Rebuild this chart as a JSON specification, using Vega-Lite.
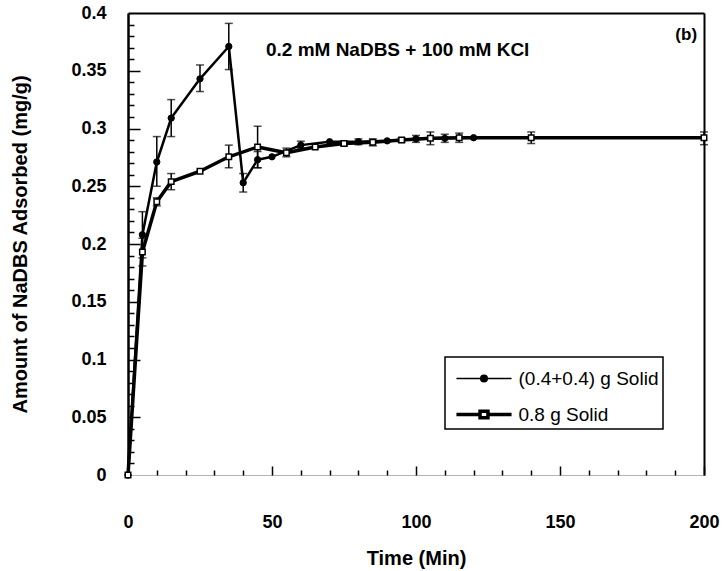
{
  "$schema": "https://vega.github.io/schema/vega-lite/v6.json",
  "autosize": "none",
  "width": 576,
  "height": 462,
  "padding": {"left": 128, "top": 13, "right": 21, "bottom": 96},
  "background": "white",
  "config": {
    "view": {"stroke": null},
    "font": "Liberation Sans",
    "axis": {"grid": false, "labelColor": "black", "titleColor": "black"},
    "legend": {
      "orient": "none",
      "legendX": 317,
      "legendY": 344,
      "strokeColor": "black",
      "strokeWidth": 1.5,
      "fillColor": "white",
      "padding": 4,
      "rowPadding": 7,
      "symbolSize": 1089,
      "symbolOffset": 16.5,
      "labelOffset": 16,
      "labelFont": "Liberation Sans",
      "labelFontSize": 19,
      "labelColor": "black",
      "labelLimit": 400
    }
  },
  "resolve": {"axis": {"x": "independent", "y": "independent"}},
  "data": {
    "values": [
      {"s": "(0.4+0.4) g Solid", "t": 0, "v": 0, "lo": null, "hi": null},
      {"s": "(0.4+0.4) g Solid", "t": 5, "v": 0.208, "lo": 0.188, "hi": 0.228},
      {"s": "(0.4+0.4) g Solid", "t": 10, "v": 0.271, "lo": 0.25, "hi": 0.293},
      {"s": "(0.4+0.4) g Solid", "t": 15, "v": 0.309, "lo": 0.293, "hi": 0.325},
      {"s": "(0.4+0.4) g Solid", "t": 25, "v": 0.343, "lo": 0.332, "hi": 0.355},
      {"s": "(0.4+0.4) g Solid", "t": 35, "v": 0.371, "lo": 0.351, "hi": 0.391},
      {"s": "(0.4+0.4) g Solid", "t": 40, "v": 0.253, "lo": 0.245, "hi": 0.261},
      {"s": "(0.4+0.4) g Solid", "t": 45, "v": 0.273, "lo": 0.266, "hi": 0.28},
      {"s": "(0.4+0.4) g Solid", "t": 50, "v": 0.2755, "lo": null, "hi": null},
      {"s": "(0.4+0.4) g Solid", "t": 60, "v": 0.2856, "lo": 0.283, "hi": 0.289},
      {"s": "(0.4+0.4) g Solid", "t": 70, "v": 0.2885, "lo": null, "hi": null},
      {"s": "(0.4+0.4) g Solid", "t": 80, "v": 0.2885, "lo": 0.286, "hi": 0.291},
      {"s": "(0.4+0.4) g Solid", "t": 90, "v": 0.2893, "lo": null, "hi": null},
      {"s": "(0.4+0.4) g Solid", "t": 100, "v": 0.291, "lo": 0.288, "hi": 0.294},
      {"s": "(0.4+0.4) g Solid", "t": 110, "v": 0.2915, "lo": 0.288, "hi": 0.295},
      {"s": "(0.4+0.4) g Solid", "t": 120, "v": 0.292, "lo": null, "hi": null},
      {"s": "0.8 g Solid", "t": 0, "v": 0, "lo": null, "hi": null},
      {"s": "0.8 g Solid", "t": 5, "v": 0.193, "lo": 0.181, "hi": 0.205},
      {"s": "0.8 g Solid", "t": 10, "v": 0.2365, "lo": 0.233, "hi": 0.24},
      {"s": "0.8 g Solid", "t": 15, "v": 0.254, "lo": 0.247, "hi": 0.261},
      {"s": "0.8 g Solid", "t": 25, "v": 0.263, "lo": null, "hi": null},
      {"s": "0.8 g Solid", "t": 35, "v": 0.2755, "lo": 0.266, "hi": 0.2856},
      {"s": "0.8 g Solid", "t": 45, "v": 0.284, "lo": 0.266, "hi": 0.302},
      {"s": "0.8 g Solid", "t": 55, "v": 0.279, "lo": 0.2755, "hi": 0.283},
      {"s": "0.8 g Solid", "t": 65, "v": 0.284, "lo": null, "hi": null},
      {"s": "0.8 g Solid", "t": 75, "v": 0.287, "lo": 0.285, "hi": 0.289},
      {"s": "0.8 g Solid", "t": 85, "v": 0.288, "lo": 0.285, "hi": 0.291},
      {"s": "0.8 g Solid", "t": 95, "v": 0.29, "lo": 0.288, "hi": 0.292},
      {"s": "0.8 g Solid", "t": 105, "v": 0.2915, "lo": 0.286, "hi": 0.297},
      {"s": "0.8 g Solid", "t": 115, "v": 0.292, "lo": 0.288, "hi": 0.296},
      {"s": "0.8 g Solid", "t": 140, "v": 0.292, "lo": 0.287, "hi": 0.297},
      {"s": "0.8 g Solid", "t": 200, "v": 0.292, "lo": 0.286, "hi": 0.297}
    ]
  },
  "layer": [
    {
      "transform": [{"filter": {"field": "lo", "valid": true}}],
      "mark": {
        "type": "errorbar",
        "color": "black",
        "rule": {"strokeWidth": 1.5},
        "ticks": {"size": 8, "thickness": 1.5, "color": "black"}
      },
      "encoding": {
        "x": {"field": "t", "type": "quantitative", "scale": {"domain": [0, 200], "nice": false}, "axis": null},
        "y": {"field": "lo", "type": "quantitative", "scale": {"domain": [0, 0.4], "nice": false}, "axis": null},
        "y2": {"field": "hi"}
      }
    },
    {
      "transform": [{"filter": "datum.s === '0.8 g Solid'"}],
      "mark": {"type": "line", "color": "black", "strokeWidth": 3.5, "strokeJoin": "round"},
      "encoding": {
        "x": {
          "field": "t", "type": "quantitative",
          "axis": {
            "values": [0, 50, 100, 150, 200],
            "ticks": false,
            "domainColor": "#b4b4b4",
            "domainWidth": 1,
            "labelFontSize": 18,
            "labelFontWeight": "bold",
            "labelPadding": 38,
            "labelFlush": false,
            "title": "Time (Min)",
            "titleFontSize": 20,
            "titleFontWeight": "bold",
            "titleBaseline": "alphabetic",
            "titleY": 89
          }
        },
        "y": {
          "field": "v", "type": "quantitative",
          "axis": {
            "values": [0, 0.05, 0.1, 0.15, 0.2, 0.25, 0.3, 0.35, 0.4],
            "format": "~g",
            "ticks": false,
            "domainColor": "black",
            "domainWidth": 2.5,
            "labelFontSize": 18,
            "labelFontWeight": "bold",
            "labelPadding": 22,
            "labelFlush": false,
            "title": "Amount of NaDBS Adsorbed (mg/g)",
            "titleFontSize": 20,
            "titleFontWeight": "bold",
            "titleX": -98
          }
        }
      }
    },
    {
      "transform": [{"filter": "datum.s === '(0.4+0.4) g Solid'"}],
      "mark": {"type": "line", "color": "black", "strokeWidth": 2.5, "strokeJoin": "round"},
      "encoding": {
        "x": {"field": "t", "type": "quantitative", "axis": null},
        "y": {"field": "v", "type": "quantitative", "axis": null}
      }
    },
    {
      "transform": [{"filter": "datum.s === '(0.4+0.4) g Solid'"}],
      "mark": {"type": "point", "shape": "circle", "filled": true, "fill": "black", "stroke": "black", "strokeWidth": 1, "size": 40, "opacity": 1},
      "encoding": {
        "x": {"field": "t", "type": "quantitative", "axis": null},
        "y": {"field": "v", "type": "quantitative", "axis": null}
      }
    },
    {
      "transform": [{"filter": "datum.s === '0.8 g Solid'"}],
      "mark": {"type": "point", "shape": "square", "filled": false, "fill": "white", "stroke": "black", "strokeWidth": 1.5, "size": 30, "opacity": 1},
      "encoding": {
        "x": {"field": "t", "type": "quantitative", "axis": null},
        "y": {"field": "v", "type": "quantitative", "axis": null}
      }
    },
    {
      "transform": [{"filter": "false"}],
      "mark": {"type": "point", "filled": false, "stroke": "black", "opacity": 1},
      "encoding": {
        "x": {"field": "t", "type": "quantitative", "axis": null},
        "y": {"field": "v", "type": "quantitative", "axis": null},
        "shape": {
          "field": "s", "type": "nominal",
          "scale": {"domain": ["(0.4+0.4) g Solid", "0.8 g Solid"], "range": ["M-1.67,0H1.67M0.2,0A0.2,0.2,0,1,1,-0.2,0A0.2,0.2,0,1,1,0.2,0Z", "M-1.67,0H-0.24M0.24,0H1.67M-0.24,-0.2H0.24V0.2H-0.24Z"]},
          "legend": {"title": null}
        },
        "fill": {
          "field": "s", "type": "nominal",
          "scale": {"domain": ["(0.4+0.4) g Solid", "0.8 g Solid"], "range": ["black", "white"]},
          "legend": {"title": null}
        },
        "strokeWidth": {
          "field": "s", "type": "nominal",
          "scale": {"domain": ["(0.4+0.4) g Solid", "0.8 g Solid"], "range": [1.5, 3.5]},
          "legend": {"title": null}
        }
      }
    },
    {
      "data": {"values": [{"note": "0.2 mM NaDBS + 100 mM KCl"}]},
      "mark": {"type": "text", "align": "left", "baseline": "middle", "fontSize": 19, "fontWeight": "bold", "color": "black"},
      "encoding": {
        "x": {"datum": 47.9, "type": "quantitative", "axis": null},
        "y": {"datum": 0.368, "type": "quantitative", "axis": null},
        "text": {"field": "note"}
      }
    },
    {
      "data": {"values": [{"note": "(b)"}]},
      "mark": {"type": "text", "align": "right", "baseline": "middle", "fontSize": 17, "fontWeight": "bold", "color": "black"},
      "encoding": {
        "x": {"datum": 197.6, "type": "quantitative", "axis": null},
        "y": {"datum": 0.381, "type": "quantitative", "axis": null},
        "text": {"field": "note"}
      }
    },
    {
      "data": {"values": [{"k": 1}]},
      "mark": {"type": "rule", "opacity": 0},
      "encoding": {
        "x": {
          "datum": 0, "type": "quantitative",
          "axis": {"orient": "bottom", "values": [0, 50, 100, 150, 200], "tickSize": -9, "tickWidth": 1.5, "tickColor": "black", "labels": false, "domain": false, "title": null}
        }
      }
    },
    {
      "data": {"values": [{"k": 1}]},
      "mark": {"type": "rule", "opacity": 0},
      "encoding": {
        "x": {
          "datum": 0, "type": "quantitative",
          "axis": {"orient": "bottom", "values": [10, 20, 30, 40, 60, 70, 80, 90, 110, 120, 130, 140, 160, 170, 180, 190], "tickSize": -5, "tickWidth": 1.5, "tickColor": "black", "labels": false, "domain": false, "title": null}
        }
      }
    },
    {
      "data": {"values": [{"k": 1}]},
      "mark": {"type": "rule", "opacity": 0},
      "encoding": {
        "x": {
          "datum": 0, "type": "quantitative",
          "axis": {"orient": "top", "ticks": false, "labels": false, "domainColor": "black", "domainWidth": 2, "title": null}
        }
      }
    },
    {
      "data": {"values": [{"k": 1}]},
      "mark": {"type": "rule", "opacity": 0},
      "encoding": {
        "y": {
          "datum": 0, "type": "quantitative",
          "axis": {"orient": "left", "values": [0.05, 0.1, 0.15, 0.2, 0.25, 0.3, 0.35], "tickSize": -12, "tickWidth": 1.5, "tickColor": "black", "labels": false, "domain": false, "title": null}
        }
      }
    },
    {
      "data": {"values": [{"k": 1}]},
      "mark": {"type": "rule", "opacity": 0},
      "encoding": {
        "y": {
          "datum": 0, "type": "quantitative",
          "axis": {"orient": "left", "values": [0.01, 0.02, 0.03, 0.04, 0.06, 0.07, 0.08, 0.09, 0.11, 0.12, 0.13, 0.14, 0.16, 0.17, 0.18, 0.19, 0.21, 0.22, 0.23, 0.24, 0.26, 0.27, 0.28, 0.29, 0.31, 0.32, 0.33, 0.34, 0.36, 0.37, 0.38, 0.39], "tickSize": -6, "tickWidth": 1.5, "tickColor": "black", "labels": false, "domain": false, "title": null}
        }
      }
    },
    {
      "data": {"values": [{"k": 1}]},
      "mark": {"type": "rule", "opacity": 0},
      "encoding": {
        "y": {
          "datum": 0, "type": "quantitative",
          "axis": {"orient": "right", "ticks": false, "labels": false, "domainColor": "black", "domainWidth": 2, "title": null}
        }
      }
    }
  ]
}
